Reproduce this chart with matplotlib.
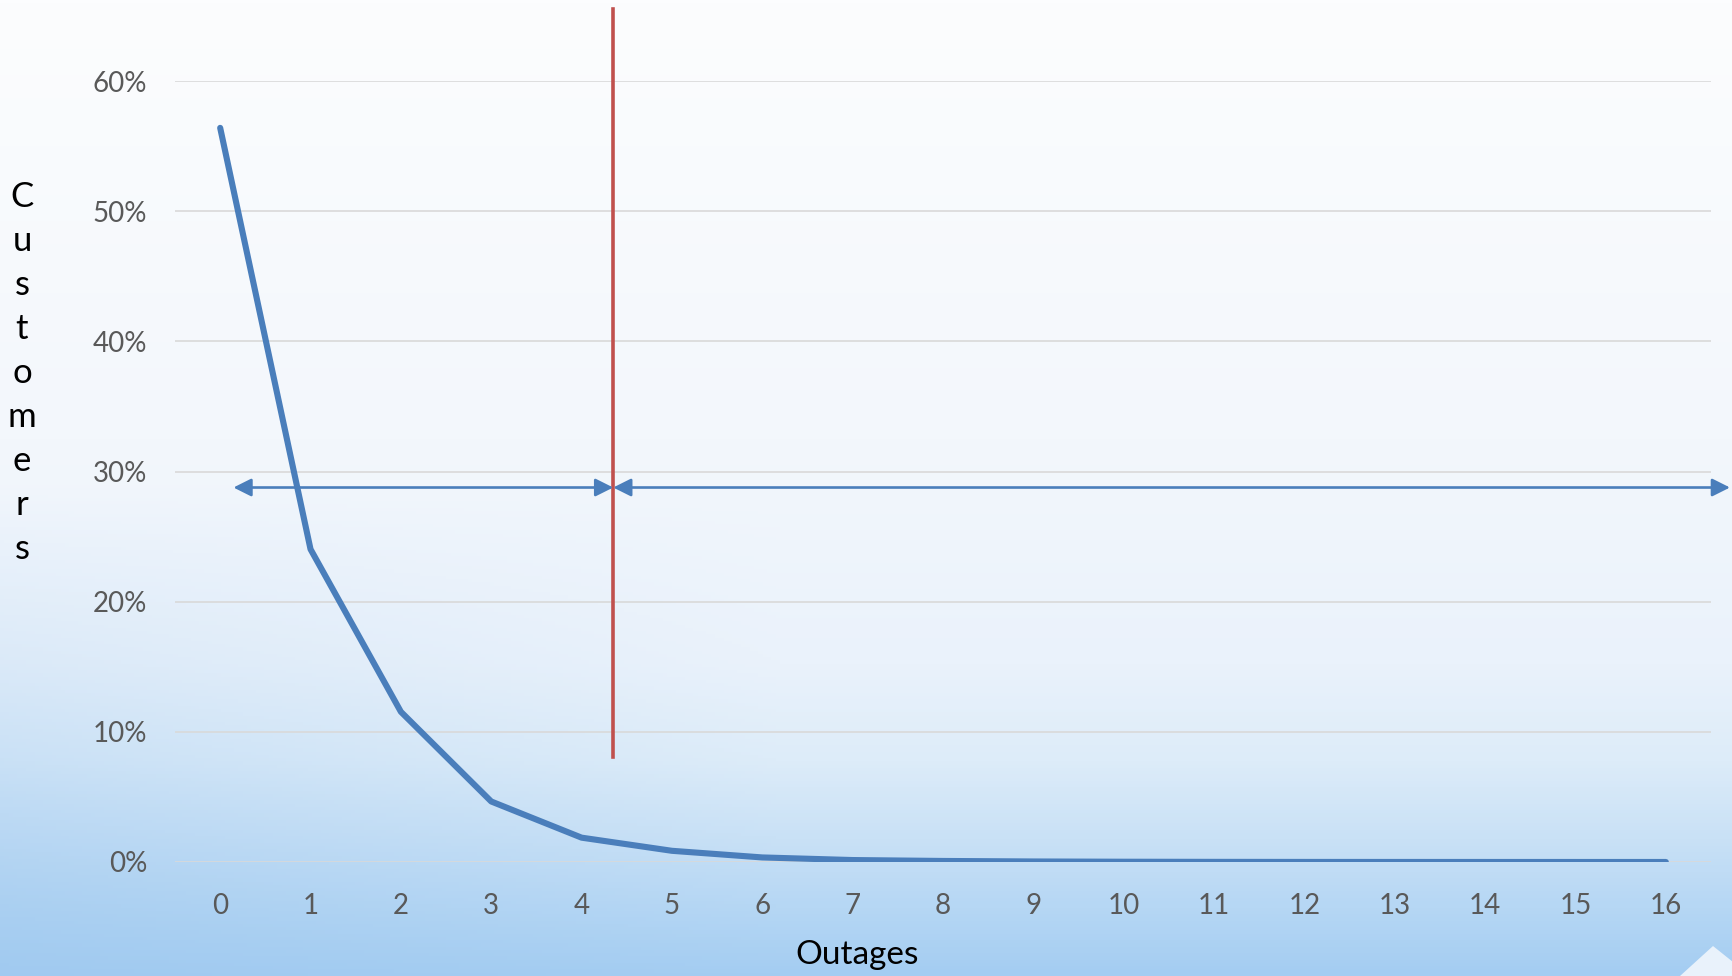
import numpy as np
import matplotlib
matplotlib.use("Agg")
import matplotlib.pyplot as plt
from matplotlib.colors import to_rgb
from matplotlib.patches import Polygon

# ---- data ----
outages = list(range(17))
tick_labels = [str(i) for i in outages]
customers = [0.564, 0.2403, 0.1154, 0.0465, 0.0187, 0.0086, 0.0035, 0.0015,
             0.0008, 0.0004, 0.0002, 0.0001, 0.00005, 0.00003, 0.00002, 0.00001, 0.00001]
y_ticks = [0.0, 0.1, 0.2, 0.3, 0.4, 0.5, 0.6]
y_tick_labels = ["0%", "10%", "20%", "30%", "40%", "50%", "60%"]
threshold_x = 4.35
threshold_y = [0.0807, 0.6556]
arrow_y = 0.2877
left_arrow = [0.147, 4.35]
right_arrow = [4.35, 16.71]

plt.rcParams['font.family'] = ['Lato', 'DejaVu Sans']

W, H = 1733, 976
fig = plt.figure(figsize=(W / 100, H / 100), dpi=100)

# ---- background gradient ----
bg = fig.add_axes([0, 0, 1, 1], zorder=-10)
bg.set_axis_off()
nh, nw = 300, 400
yy = np.linspace(0, 1, nh)[:, None]
xx = np.linspace(0, 1, nw)[None, :]
stops = [0.0, 0.45, 0.68, 0.78, 0.86, 0.93, 1.0]
cols = [to_rgb(c) for c in ["#fcfdfe", "#f3f7fc", "#eaf2fb", "#ddecf9", "#c9e1f6", "#b6d7f4", "#a4cdf2"]]
img = np.zeros((nh, nw, 3))
for ch in range(3):
    v = np.interp(yy[:, 0], stops, [c[ch] for c in cols])
    img[:, :, ch] = v[:, None]
blue = np.array(to_rgb("#9ec8ef"))
w = np.clip((yy - 0.5) / 0.5, 0, 1) * np.clip(1 - xx / 0.45, 0, 1) * 0.55
img = img * (1 - w[..., None]) + blue * w[..., None]
bg.imshow(img, extent=[0, 1, 0, 1], aspect='auto', origin='upper')
bg.set_xlim(0, 1)
bg.set_ylim(0, 1)
tri = Polygon([(1680 / W, 0), (1713 / W, 1 - 946 / H), (1.0, 1 - 962 / H), (1.0, 0)],
              closed=True, facecolor="#e9f2fb", edgecolor="none")
bg.add_patch(tri)

# ---- main axes ----
ax = fig.add_axes([175 / W, 1 - 862 / H, (1711 - 175) / W, (862 - 81) / H])
ax.set_facecolor("none")
ax.set_xlim(-0.5, 16.5)
ax.set_ylim(0, 0.6)
for s in ax.spines.values():
    s.set_visible(False)
ax.set_yticks(y_ticks)
ax.set_yticklabels(y_tick_labels)
ax.set_xticks(outages)
ax.set_xticklabels(tick_labels)
ax.tick_params(axis='both', length=0, colors="#595959", labelsize=20)
ax.tick_params(axis='y', pad=20)
ax.tick_params(axis='x', pad=22)
ax.grid(axis='y', color="#d9d9d9", linewidth=1.2, zorder=0)
ax.set_axisbelow(True)

ax.plot(outages, customers, color="#4a7ebb", linewidth=4.4, solid_capstyle='round',
        solid_joinstyle='round', zorder=3)

ax.plot([threshold_x, threshold_x], threshold_y, color="#c0504d", linewidth=2.6,
        clip_on=False, zorder=4)

arrow_props = dict(arrowstyle='<|-|>', color="#4a7ebb", lw=1.9, mutation_scale=27,
                   shrinkA=0, shrinkB=0)
ax.annotate("", xy=(left_arrow[0], arrow_y), xytext=(left_arrow[1], arrow_y),
            arrowprops=arrow_props, annotation_clip=False, zorder=5)
ax.annotate("", xy=(right_arrow[1], arrow_y), xytext=(right_arrow[0], arrow_y),
            arrowprops=arrow_props, annotation_clip=False, zorder=5)

fig.text(857 / W, 1 - 955 / H, "Outages", ha='center', va='center', fontsize=24, color="black")
fig.text(22 / W, 1 - 373 / H, "\n".join("Customers"), ha='center', va='center',
         fontsize=25, color="black", linespacing=1.46, multialignment='center')

fig.savefig("out.png", dpi=100)
